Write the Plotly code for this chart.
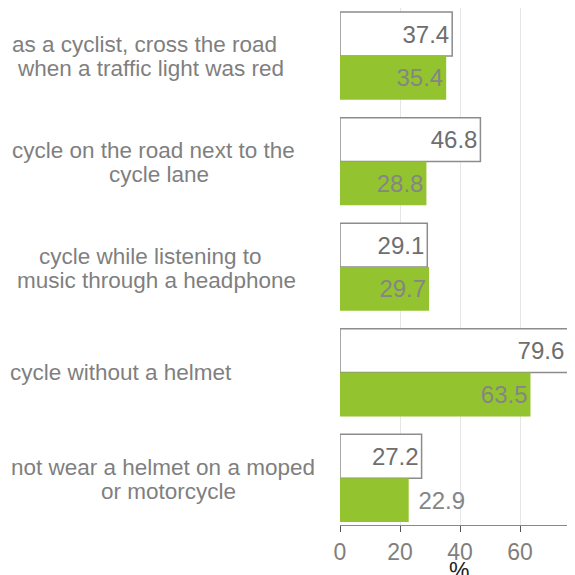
import plotly.graph_objects as go

# Datos del gráfico:
categories = [
    ['as a cyclist, cross the road', 'when a traffic light was red'],
    ['cycle on the road next to the', 'cycle lane'],
    ['cycle while listening to', 'music through a headphone'],
    ['cycle without a helmet'],
    ['not wear a helmet on a moped', 'or motorcycle'],
]
values_white = [37.4, 46.8, 29.1, 79.6, 27.2]
values_green = [35.4, 28.8, 29.7, 63.5, 22.9]
x_ticks = [0, 20, 40, 60]

# Centro horizontal (px) de cada etiqueta, medido en la imagen:
label_centers = [[144, 150], [153, 159], [150, 156], [121], [163, 168]]

keys = [f'c{i}' for i in range(len(categories))]
font_family = 'Liberation Sans, Arial, sans-serif'
text_gray = '#7f7f7f'

x_max = 78.33
plot_left = 332
plot_width = 235
fig_height = 567
plot_bottom = 517

green_pos = ['inside', 'inside', 'inside', 'inside', 'outside']


def label_text(v, pos='inside'):
    # Texto desplazado si la barra se sale del eje o si va fuera:
    s = f'{v:.1f}'
    if v > x_max:
        s = s + '\u00a0\u2009'
    if pos == 'outside':
        s = '\u00a0' + s
    return s


fig = go.Figure()

fig.add_trace(go.Bar(
    y=keys, x=values_white, orientation='h',
    marker=dict(color='white', line=dict(color='#8c8c8c', width=1.5)),
    text=[label_text(v) for v in values_white],
    textposition='inside', insidetextanchor='end',
    textfont=dict(size=24, color='#6e6e6e', family=font_family),
))

fig.add_trace(go.Bar(
    y=keys, x=values_green, orientation='h',
    marker=dict(color='#93c42f', line=dict(width=0)),
    text=[label_text(v, p) for v, p in zip(values_green, green_pos)],
    textposition=green_pos,
    insidetextanchor='end',
    textfont=dict(size=24, color='#858585', family=font_family),
))

# Etiquetas de categoría a la izquierda (una anotación por línea):
annotations = []
for k, lines, centers in zip(keys, categories, label_centers):
    shifts = [0] if len(lines) == 1 else [11, -13]
    for line, cx, dy in zip(lines, centers, shifts):
        annotations.append(dict(
            text=line, x=(cx - 8 - plot_left) / plot_width, xref='x domain',
            y=k, yref='y', yshift=dy,
            xanchor='center', yanchor='middle', showarrow=False,
            font=dict(size=22.5, color=text_gray, family=font_family),
        ))

# Título del eje X (queda cortado por el borde, como en el original):
annotations.append(dict(
    text='%', x=(459 - 8 - plot_left) / plot_width, xref='x domain',
    y=0, yref='y domain', yshift=-46, xanchor='center', yanchor='middle',
    showarrow=False, font=dict(size=23, color='#222222', family=font_family),
))

fig.update_layout(
    width=567, height=fig_height,
    margin=dict(l=plot_left, r=0, t=0, b=fig_height - plot_bottom),
    paper_bgcolor='white', plot_bgcolor='white',
    barmode='group', bargap=0.17, bargroupgap=0,
    showlegend=False,
    font=dict(family=font_family, color=text_gray),
    annotations=annotations,
    uniformtext=dict(minsize=24, mode='show'),
)

fig.update_xaxes(
    range=[0, x_max], tickvals=x_ticks, automargin=False,
    showgrid=True, gridcolor='#e6e6e6', gridwidth=1,
    zeroline=False, showline=True, linecolor='#888888', linewidth=1,
    ticks='outside', tickcolor='#555555', ticklen=6,
    tickfont=dict(size=23, color=text_gray),
)
fig.update_yaxes(
    categoryorder='array', categoryarray=keys,
    range=[4.444, -0.454], showticklabels=False, automargin=False,
    showgrid=False, zeroline=False, showline=False,
)

fig.write_html('out.html')
